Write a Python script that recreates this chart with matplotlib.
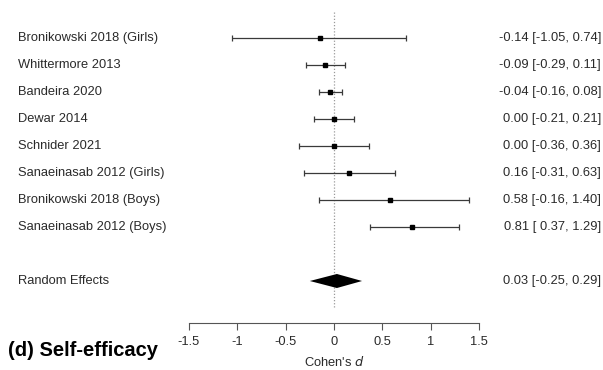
import numpy as np
import matplotlib
matplotlib.use("Agg")
import matplotlib.pyplot as plt
import matplotlib.transforms as mtransforms

plt.rcParams["font.family"] = ["Liberation Sans", "DejaVu Sans"]

# ---------------------------------------------------------------- data
studies = ["Bronikowski 2018 (Girls)", "Whittermore 2013", "Bandeira 2020",
           "Dewar 2014", "Schnider 2021", "Sanaeinasab 2012 (Girls)",
           "Bronikowski 2018 (Boys)", "Sanaeinasab 2012 (Boys)"]
est = [-0.14, -0.09, -0.04, 0.00, 0.00, 0.16, 0.58, 0.81]
lo  = [-1.05, -0.29, -0.16, -0.21, -0.36, -0.31, -0.16, 0.37]
hi  = [0.74, 0.11, 0.08, 0.21, 0.36, 0.63, 1.40, 1.29]

re_label = "Random Effects"
re_est, re_lo, re_hi = 0.03, -0.25, 0.29

xticks = [-1.5, -1, -0.5, 0, 0.5, 1, 1.5]
xticklabels = ["-1.5", "-1", "-0.5", "0", "0.5", "1", "1.5"]

# ---------------------------------------------------------------- layout
W, H = 603, 370
fig = plt.figure(figsize=(W / 100, H / 100), dpi=100)
ax = fig.add_axes([0, 0, 1, 1])

# pixel -> data mapping: x=0 at px 334, 1 unit = 96.7 px; row 0 at px 38, 27 px per row
x0, xs = 334, 96.7
y0, ys = 38, 27
ax.set_xlim((0 - x0) / xs, (W - x0) / xs)
ax.set_ylim((H - y0) / ys, (0 - y0) / ys)

rows = np.arange(len(studies))
re_row = len(studies) + 1
LC = "#3a3a3a"
TC = "#2a2a2a"
FS = 9.3

# reference line
ax.vlines(0, (12 - y0) / ys, (308 - y0) / ys, colors="#9a9a9a",
          linestyles=(0, (1, 1.5)), lw=0.9, zorder=1)

# study CIs
xerr = [np.array(est) - np.array(lo), np.array(hi) - np.array(est)]
ax.errorbar(est, rows, xerr=xerr, fmt="s", color="black", ms=2.2,
            ecolor=LC, elinewidth=0.9, capsize=2.5, capthick=0.9, zorder=3)

# pooled diamond
dh = 0.26
ax.fill([re_lo, re_est, re_hi, re_est], [re_row, re_row - dh, re_row, re_row + dh],
        color="black", lw=0, zorder=3)

# left labels / right annotations
lt = mtransforms.blended_transform_factory(fig.transFigure, ax.transData)
for r, s in zip(rows, studies):
    ax.text(18 / W, r, s, transform=lt, ha="left", va="center", fontsize=FS, color=TC)
ax.text(18 / W, re_row, re_label, transform=lt, ha="left", va="center", fontsize=FS, color=TC)

for r, e, l, h in zip(rows, est, lo, hi):
    ax.text(601 / W, r, f"{e:.2f} [{l:5.2f}, {h:.2f}]", transform=lt,
            ha="right", va="center", fontsize=FS, color=TC)
ax.text(601 / W, re_row, f"{re_est:.2f} [{re_lo:5.2f}, {re_hi:.2f}]", transform=lt,
        ha="right", va="center", fontsize=FS, color=TC)

# x axis
for side in ["top", "left", "right"]:
    ax.spines[side].set_visible(False)
ax.spines["bottom"].set_position(("data", (323 - y0) / ys))
ax.spines["bottom"].set_bounds(-1.5, 1.5)
ax.spines["bottom"].set_color("#555555")
ax.spines["bottom"].set_linewidth(0.8)
ax.set_yticks([])
ax.set_xticks(xticks)
ax.set_xticklabels(xticklabels)
ax.tick_params(axis="x", direction="out", length=5, width=0.8, color="#555555",
               labelsize=FS, labelcolor=TC, pad=4.5)

ax.text(0, (362 - y0) / ys, "Cohen's $\\mathit{d}$", ha="center", va="center",
        fontsize=FS, color=TC)

fig.text(8 / W, 1 - 351 / H, "(d) Self-efficacy", ha="left", va="center",
         fontsize=14.5, fontweight="bold", color="black")

fig.savefig("out.png", dpi=100, facecolor="white")
